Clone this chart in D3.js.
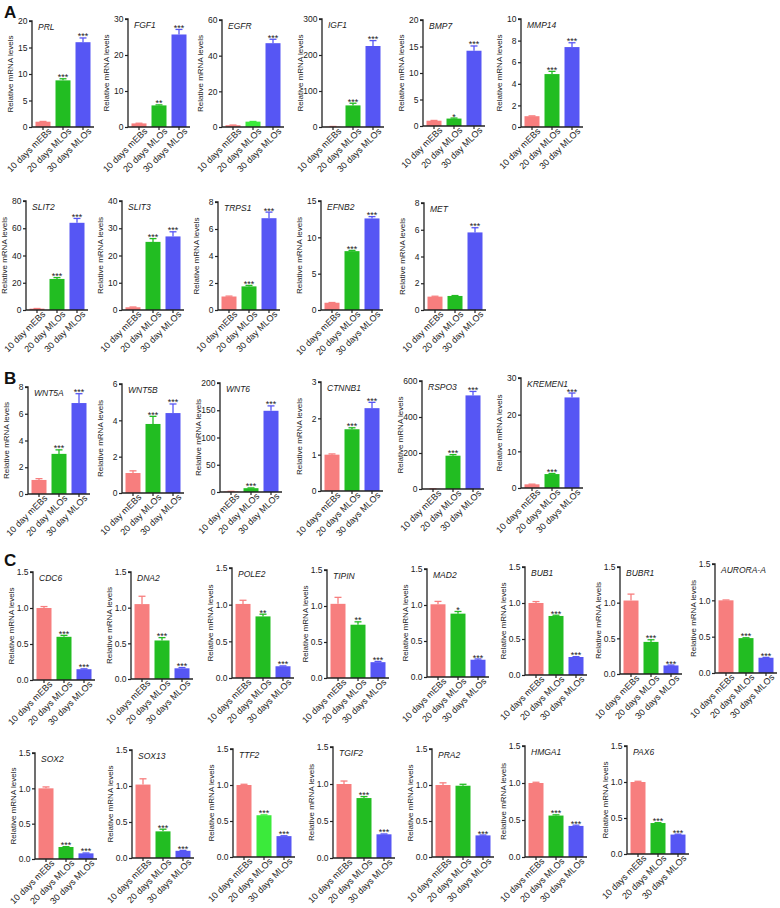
<!DOCTYPE html>
<html><head><meta charset="utf-8">
<script src="https://cdn.jsdelivr.net/npm/d3@7"></script>
<style>body{margin:0;background:#fff}svg{display:block;font-family:"Liberation Sans",Arial,sans-serif}</style>
</head><body><svg id="c" width="780" height="908"></svg>
<script>
// ---- data ----
const genes = ["PRL","FGF1","EGFR","IGF1","BMP7","MMP14",
  "SLIT2","SLIT3","TRPS1","EFNB2","MET",
  "WNT5A","WNT5B","WNT6","CTNNB1","RSPO3","KREMEN1",
  "CDC6","DNA2","POLE2","TIPIN","MAD2","BUB1","BUBR1","AURORA-A",
  "SOX2","SOX13","TTF2","TGIF2","PRA2","HMGA1","PAX6"];
const values = [
  [1.0,8.8,16.0],[1.0,6.0,25.7],[1.0,3.0,47],[1.0,60,225],[1.0,1.4,14.2],[1.0,4.9,7.4],
  [1.0,22.8,64],[1.0,25,27],[1.0,1.75,6.8],[1.0,8.1,12.6],[1.0,1.05,5.8],
  [1.05,3.0,6.8],[1.1,3.8,4.4],[1.0,7,149],[1.0,1.7,2.28],[1.0,185,520],[1.0,3.8,24.7],
  [1.0,0.6,0.15],[1.05,0.54,0.15],[1.01,0.84,0.16],[1.03,0.74,0.22],[1.01,0.88,0.24],[1.0,0.82,0.25],[1.03,0.45,0.12],[1.0,0.48,0.21],
  [1.0,0.17,0.08],[1.02,0.37,0.1],[1.0,0.58,0.29],[1.0,0.81,0.32],[1.0,0.99,0.3],[1.0,0.56,0.42],[1.0,0.43,0.27]];
const errors = [
  [0.05,0.3,0.8],[0.05,0.15,1.4],[0.1,0.1,2.2],[0.5,6,15],[0.05,0.1,0.9],[0.03,0.25,0.4],
  [0.1,1.0,3.2],[0.1,1.2,1.7],[0.03,0.07,0.45],[0.03,0.1,0.25],[0.03,0.03,0.35],
  [0.1,0.3,0.7],[0.12,0.42,0.5],[0.2,0.5,9],[0.02,0.04,0.16],[0.1,6,22],[0.05,0.15,1.2],
  [0.02,0.02,0.005],[0.11,0.04,0.01],[0.05,0.03,0.005],[0.09,0.04,0.01],[0.04,0.03,0.01],[0.02,0.01,0.005],[0.09,0.03,0.005],[0.005,0.005,0.005],
  [0.02,0.005,0.005],[0.08,0.03,0.005],[0.01,0.005,0.005],[0.04,0.02,0.005],[0.03,0.02,0.005],[0.01,0.01,0.01],[0.01,0.005,0.005]];
const stars = [
  ["","***","***"],["","**","***"],["","","***"],["","***","***"],["","*","***"],["","***","***"],
  ["","***","***"],["","***","***"],["","***","***"],["","***","***"],["","","***"],
  ["","***","***"],["","***","***"],["","***","***"],["","***","***"],["","***","***"],["","***","***"],
  ["","***","***"],["","***","***"],["","**","***"],["","**","***"],["","*","***"],["","***","***"],["","***","***"],["","***","***"],
  ["","***","***"],["","***","***"],["","***","***"],["","***","***"],["","","***"],["","***","***"],["","***","***"]];
const yMax = [20,30,60,300,20,10, 80,40,8,15,8, 8,6,200,3,600,30,
  1.5,1.5,1.5,1.5,1.5,1.5,1.5,1.5, 1.5,1.5,1.5,1.5,1.5,1.5,1.5];
const yStep = [5,10,20,100,5,2, 20,10,2,5,2, 2,2,50,1,200,10,
  0.5,0.5,0.5,0.5,0.5,0.5,0.5,0.5, 0.5,0.5,0.5,0.5,0.5,0.5,0.5];
const dayWord = ["days","days","days","days","day","day",
  "day","day","day","days","day",
  "day","day","day","days","day","days",
  "days","days","days","days","days","days","days","days",
  "days","days","days","days","days","days","days"];
const groups = ["10 {d} mEBs","20 {d} MLOs","30 {d} MLOs"];
const panelLetters = ["A","B","C"];

// ---- layout (pixel placement only) ----
const layout = [
  [32,21,127],[128,19,127],[222,20,127],[322,19,127],[423,20,126],[521,19,127],
  [26,201,310],[122,201,310],[218,202,310],[321,201,310],[424,203,310],
  [28,387,494],[122,384,493],[220,383,492],[321,382,491],[422,381,489],[521,378,488],
  [33,572,680],[131,572,679],[232,568,678],[327,570,678],[427,569,677],[525,567,675],[620,567,674],[715,564,673],
  [35,753,859],[132,750,858],[233,749,857],[333,747,858],[432,749,857],[525,746,857],[627,746,854]];
const letterPos = [[4,18],[4,384],[4,566]];
const colors = ["#F77E7E","#22BD22","#5656F4"];
const brightGreen = {"EGFR":"#3BEA3B","TTF2":"#3BEA3B"};

const svg = d3.select("#c");
const plotW = 62;

genes.forEach((g,i)=>{
  const [ax,top,base] = layout[i];
  const cats = groups.map(s=>s.replace("{d}",dayWord[i]));
  const x = d3.scaleBand().domain(cats).range([ax,ax+plotW]).paddingInner(0.25).paddingOuter(0.175);
  const y = d3.scaleLinear().domain([0,yMax[i]]).range([base,top]);
  const ticks = d3.range(0, yMax[i]+yStep[i]/2, yStep[i]);
  const dec = yStep[i] < 1 ? 1 : 0;
  const G = svg.append("g");
  const col = k => (k===1 && brightGreen[g]) ? brightGreen[g] : colors[k];
  const data = cats.map((c,k)=>({c,k,v:values[i][k],e:errors[i][k],s:stars[i][k]}));

  G.selectAll("rect").data(data).join("rect")
    .attr("x",d=>x(d.c)).attr("width",x.bandwidth())
    .attr("y",d=>y(d.v)).attr("height",d=>Math.max(0,y(0)-y(d.v)))
    .attr("fill",d=>col(d.k));
  // error bars
  const cw = 7;
  data.forEach(d=>{
    const cx = x(d.c)+x.bandwidth()/2;
    G.append("line").attr("x1",cx).attr("x2",cx).attr("y1",y(d.v)).attr("y2",y(d.v+d.e))
      .attr("stroke",col(d.k)).attr("stroke-width",1.3);
    G.append("line").attr("x1",cx-cw/2).attr("x2",cx+cw/2).attr("y1",y(d.v+d.e)).attr("y2",y(d.v+d.e))
      .attr("stroke",col(d.k)).attr("stroke-width",1.3);
    if(d.s) G.append("text").attr("x",cx).attr("y",y(d.v+d.e)+1.5)
      .attr("text-anchor","middle").attr("font-size",9).attr("fill","#222").text(d.s);
  });
  // y axis
  const ya = G.append("g").attr("transform",`translate(${ax},0)`)
    .call(d3.axisLeft(y).tickValues(ticks).tickSize(3).tickPadding(1.5).tickFormat(d3.format(`.${dec}f`)));
  ya.select(".domain").attr("stroke","#222").attr("stroke-width",1.3).attr("d",`M-3,${top}H0V${base}`);
  ya.selectAll(".tick line").attr("stroke","#222").attr("stroke-width",1.2);
  ya.selectAll(".tick text").attr("font-size",8.5).attr("fill","#222").attr("font-family",null);
  // x axis
  const xa = G.append("g").attr("transform",`translate(0,${base})`)
    .call(d3.axisBottom(x).tickSize(3).tickPadding(1));
  xa.select(".domain").attr("stroke","#222").attr("stroke-width",1.3).attr("d",`M${ax},0H${ax+plotW}`);
  xa.selectAll(".tick line").attr("stroke","#222").attr("stroke-width",1.2);
  xa.selectAll(".tick text").attr("font-size",9).attr("fill","#222").attr("font-family",null)
    .attr("text-anchor","end").attr("dy",null).attr("transform","translate(6,2) rotate(-45)");
  // y label
  G.append("text").attr("transform",`translate(${ax-19.5},${(top+base)/2}) rotate(-90)`)
    .attr("text-anchor","middle").attr("font-size",8).attr("fill","#222").text("Relative mRNA levels");
  // gene name
  G.append("text").attr("x",ax+6).attr("y",top+9).attr("font-size",8.5).attr("font-style","italic")
    .attr("fill","#222").text(g);
});

panelLetters.forEach((L,i)=>{
  svg.append("text").attr("x",letterPos[i][0]).attr("y",letterPos[i][1])
    .attr("font-size",17).attr("font-weight","bold").attr("fill","#111").text(L);
});
</script></body></html>
